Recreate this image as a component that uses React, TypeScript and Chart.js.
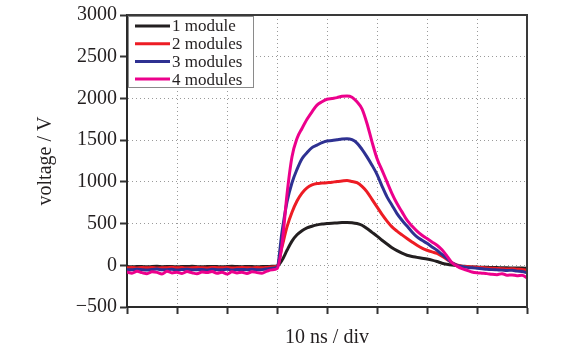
import React, { useEffect, useRef } from "react";
import { Chart, registerables } from "chart.js";

Chart.register(...registerables);

// time axis, ns (10 ns / div)
const timeNs: number[] = [
  0, 1, 2, 3, 4, 5, 6, 7, 8, 9, 10, 11, 12, 13, 14, 15, 16, 17, 18, 19,
  20, 21, 22, 23, 24, 25, 26, 27, 28, 29, 30, 31, 32, 33, 34, 35, 36, 37, 38, 39,
  40, 41, 42, 43, 44, 45, 46, 47, 48, 49, 50, 51, 52, 53, 54, 55, 56, 57, 58, 59,
  60, 61, 62, 63, 64, 65, 66, 67, 68, 69, 70, 71, 72, 73, 74, 75, 76, 77, 78, 79, 80,
];

const seriesLabels: string[] = ["1 module", "2 modules", "3 modules", "4 modules"];

const module1: number[] = [
  -15, -18, -14, -16, -19, -15, -13, -17, -16, -14, -18, -15, -16, -13, -17, -19, -15, -14, -16, -18,
  -15, -13, -16, -17, -15, -14, -18, -16, -15, -12,
  -8, 60, 180, 290, 365, 415, 448, 468, 484, 495, 500, 505, 508, 512, 514, 510, 500, 480, 440, 395,
  350, 300, 255, 210, 175, 145, 120, 105, 95, 85, 75, 62, 45, 25, 12, 2, -5, -10, -15, -20,
  -22, -24, -25, -27, -28, -30, -30, -32, -33, -34, -36,
];

const module2: number[] = [
  -30, -26, -32, -28, -31, -27, -33, -29, -30, -25, -31, -28, -34, -29, -27, -30, -32, -26, -29, -31,
  -28, -33, -30, -27, -29, -32, -28, -30, -26, -20,
  -15, 220, 460, 635, 770, 865, 928, 963, 980, 985, 990, 995, 1005, 1010, 1015, 1005, 990, 945, 880, 790,
  700, 610, 530, 460, 410, 365, 322, 280, 240, 205, 180, 160, 143, 110, 70, 30, 5, -10, -15, -20,
  -25, -28, -32, -35, -38, -40, -45, -42, -48, -50, -60,
];

const module3: number[] = [
  -50, -55, -48, -53, -57, -50, -46, -54, -52, -49, -56, -51, -47, -55, -53, -50, -58, -49, -52, -54,
  -48, -56, -51, -50, -53, -47, -55, -52, -45, -35,
  -25, 400, 760, 990, 1150, 1278, 1350, 1410, 1440, 1470, 1490, 1495, 1505, 1515, 1517, 1505, 1465, 1390, 1300, 1200,
  1090, 950, 820, 720, 620, 540, 470, 400, 340, 300, 263, 220, 180, 130, 80, 30, 0, -15, -25, -30,
  -36, -42, -48, -52, -55, -58, -62, -60, -70, -75, -90,
];

const module4: number[] = [
  -80, -95, -72, -88, -100, -78, -85, -105, -70, -92, -83, -98, -75, -90, -102, -80, -87, -73, -96, -84,
  -105, -78, -91, -82, -99, -76, -88, -94, -70, -55,
  -40, 250, 850, 1300, 1520, 1640, 1750, 1840, 1920, 1960, 1990, 2000, 2010, 2025, 2030, 2015, 1960, 1875, 1700, 1480,
  1280, 1140, 1000, 860, 740, 640, 540, 470, 410, 360, 320, 280, 240, 185, 110, 30, -10, -40, -60, -80,
  -90, -95, -100, -108, -112, -100, -120, -115, -125, -118, -150,
];

const seriesValues: number[][] = [module1, module2, module3, module4];
const seriesColors: string[] = ["#231f20", "#ed1c24", "#2e3192", "#ec008c"];

const yTicks: number[] = [-500, 0, 500, 1000, 1500, 2000, 2500, 3000];

const INK = "#231f20";
const FONT = "'Liberation Serif', 'DejaVu Serif', serif";

const framePlugin = {
  id: "frameAndLegend",
  afterDraw(chart: any) {
    const { ctx, chartArea } = chart;
    const { left, right, top, bottom } = chartArea;
    ctx.save();
    // top and right frame
    ctx.strokeStyle = "#3a3a3a";
    ctx.lineWidth = 2;
    ctx.beginPath();
    ctx.moveTo(left, top);
    ctx.lineTo(right, top);
    ctx.lineTo(right, bottom);
    ctx.stroke();

    // legend box
    const bx = left + 1;
    const by = top + 1;
    const bw = 125;
    const bh = 71;
    ctx.fillStyle = "#ffffff";
    ctx.fillRect(bx, by, bw, bh);
    ctx.strokeStyle = "#8a8a8a";
    ctx.lineWidth = 1;
    ctx.strokeRect(bx + 0.5, by + 0.5, bw, bh);
    ctx.font = `17px ${FONT}`;
    ctx.textBaseline = "middle";
    ctx.textAlign = "left";
    chart.data.datasets.forEach((ds: any, i: number) => {
      const cy = by + 10 + i * 17.7;
      ctx.strokeStyle = ds.borderColor;
      ctx.lineWidth = 3;
      ctx.beginPath();
      ctx.moveTo(bx + 7, cy);
      ctx.lineTo(bx + 42, cy);
      ctx.stroke();
      ctx.fillStyle = INK;
      ctx.fillText(ds.label, bx + 44, cy + 1);
    });
    ctx.restore();
  },
};

export default function App() {
  const ref = useRef<HTMLCanvasElement | null>(null);

  useEffect(() => {
    if (!ref.current) return;
    const datasets = seriesLabels.map((label, i) => ({
      label,
      data: timeNs.map((t, k) => ({ x: t, y: seriesValues[i][k] })),
      borderColor: seriesColors[i],
      backgroundColor: seriesColors[i],
      borderWidth: 3,
      pointRadius: 0,
      cubicInterpolationMode: "monotone" as const,
      order: seriesLabels.length - i,
    }));

    const chart = new Chart(ref.current, {
      type: "line",
      data: { datasets },
      options: {
        animation: false,
        responsive: false,
        maintainAspectRatio: false,
        layout: { padding: { top: 14, right: 45, left: 0, bottom: 0 } },
        plugins: {
          legend: { display: false },
          tooltip: { enabled: false },
        },
        scales: {
          x: {
            type: "linear",
            min: 0,
            max: 80,
            ticks: { stepSize: 10, callback: () => "", font: { family: FONT, size: 20 } },
            grid: {
              color: (c: any) =>
                c.tick && (c.tick.value === 0 || c.tick.value === 80) ? "rgba(0,0,0,0)" : "#9a9a9a",
              lineWidth: 1,
              tickColor: "#333333",
              tickWidth: 2,
              tickLength: 7,
            },
            border: { display: true, color: "#2a2a2a", width: 2, dash: [1, 3] },
            title: {
              display: true,
              text: "10 ns / div",
              color: INK,
              font: { family: FONT, size: 20 },
              padding: { top: 0, bottom: 5 },
            },
            afterFit: (s: any) => {
              s.height = 48;
            },
          },
          y: {
            type: "linear",
            min: -500,
            max: 3000,
            afterBuildTicks: (s: any) => {
              s.ticks = yTicks.map((v) => ({ value: v }));
            },
            ticks: {
              stepSize: 500,
              padding: 3,
              color: INK,
              font: { family: FONT, size: 20 },
              callback: (v: any) => (Number(v) < 0 ? "\u2212" + Math.abs(Number(v)) : String(v)),
            },
            grid: {
              color: (c: any) =>
                c.tick && (c.tick.value === -500 || c.tick.value === 3000) ? "rgba(0,0,0,0)" : "#9a9a9a",
              lineWidth: 1,
              tickColor: "#333333",
              tickWidth: 2,
              tickLength: 7,
            },
            border: { display: true, color: "#2a2a2a", width: 2, dash: [1, 3] },
            title: {
              display: true,
              text: "voltage / V",
              color: INK,
              font: { family: FONT, size: 20 },
              padding: { top: 34, bottom: 0 },
            },
            afterFit: (s: any) => {
              s.width = 127;
            },
          },
        },
      },
      plugins: [framePlugin],
    });
    return () => chart.destroy();
  }, []);

  return (
    <div style={{ position: "fixed", left: 0, top: 0, width: 572, height: 355, background: "#fff" }}>
      <canvas ref={ref} width={572} height={355} style={{ display: "block", width: 572, height: 355 }} />
    </div>
  );
}
